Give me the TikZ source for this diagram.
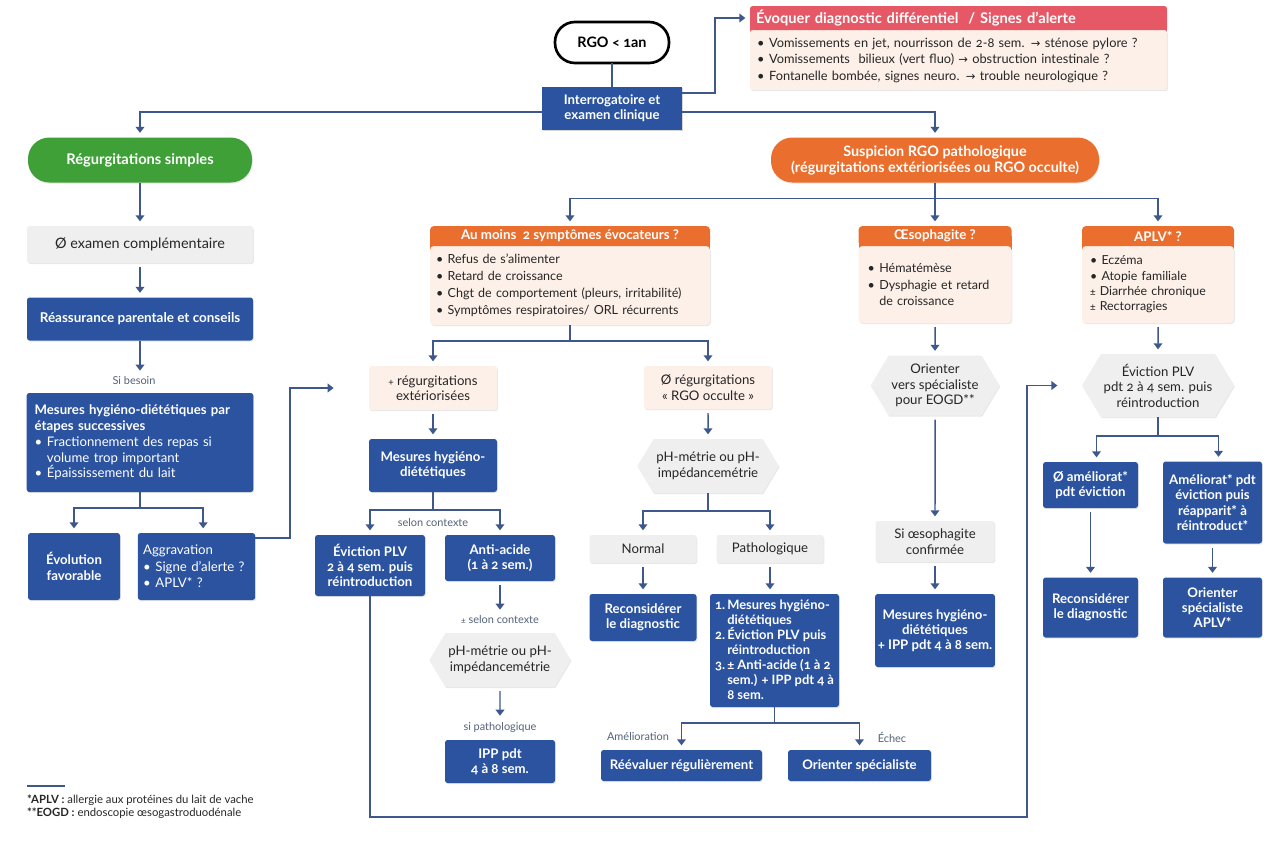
\documentclass[tikz,border=0pt]{standalone}
\usepackage{fontspec}
\setmainfont{Lato}[Numbers=OldStyle]
\newfontfamily\symfont{DejaVu Sans}
\usetikzlibrary{positioning, arrows.meta, shapes.symbols, shadows, backgrounds}

\definecolor{cblue}{RGB}{43,83,160}
\definecolor{cline}{RGB}{62,88,142}
\definecolor{cgreen}{RGB}{62,160,55}
\definecolor{corange}{RGB}{234,110,45}
\definecolor{cred}{RGB}{230,88,102}
\definecolor{cpeach}{RGB}{253,240,232}
\definecolor{cgray}{RGB}{239,239,239}
\definecolor{ctext}{RGB}{38,38,38}
\definecolor{clabel}{RGB}{84,98,122}

\newcommand\fsz[2]{\fontsize{#1}{#2}\selectfont}
\newcommand\toarr{{\symfont\fsz{8.6}{10}→}}
\newcommand\itm{\textbullet\hspace{0.35em}}
\newcommand\smallpm{{\fsz{7.8}{9}±}}

\tikzset{
    sz/.style 2 args={minimum width=#1*0.75pt, minimum height=#2*0.75pt},
    basebox/.style={rectangle, inner sep=2pt, outer sep=0pt, align=center, text=ctext, font=\fsz{9.9}{11.6}},
    soft/.style={drop shadow={opacity=0.18, shadow xshift=0.6pt, shadow yshift=-0.9pt}},
    bluebox/.style={basebox, soft, fill=cblue, text=white, rounded corners=2pt, font=\fsz{9.9}{11.4}\bfseries},
    graybox/.style={basebox, soft, fill=cgray, rounded corners=2pt},
    peachbox/.style={basebox, soft, fill=cpeach, rounded corners=2pt},
    hexbox/.style={basebox, soft, fill=cgray, shape=signal, signal to=west and east, signal pointer angle=118},
    pill/.style={basebox, rounded corners=11pt, text=white, font=\fsz{11}{12.5}\bfseries},
    hdrbox/.style={basebox, rounded corners=3pt, text=white, font=\fsz{10}{11}\bfseries},
    listbox/.style={basebox, soft, fill=cpeach, rounded corners=3pt, align=left, font=\fsz{9.4}{12.2}},
    lbl/.style={text=clabel, inner sep=1pt, font=\fsz{8.2}{10}},
    conn/.style={draw=cline, line width=1.1pt},
    arr/.style={conn, -{Triangle[width=6.5pt, length=4.5pt]}, shorten >=3.5pt},
    sarr/.style={arr, shorten <=3pt},
}

\begin{document}
\begin{tikzpicture}[x=0.75pt, y=-0.75pt]

\begin{scope}[on background layer]
  \fill[white] (0,0) rectangle (1280,846);
\end{scope}
\useasboundingbox (0,0) rectangle (1280,846);

% haut
\node[pill, draw=black, line width=2pt, fill=white, text=black, sz={114}{41}, rounded corners=15pt, font=\fsz{10.8}{12}\bfseries] (rgo) at (612,42.5) {RGO < 1an};
\node[bluebox, soft, sz={140}{43}, rounded corners=0pt] (interro) at (612,108.5) {Interrogatoire et\\examen clinique};

\node[listbox, sz={417}{60}, rounded corners=2pt, text width=302pt, inner xsep=5.25pt, font=\fsz{9.6}{12.4}] (alertb) at (958.5,60) {\itm Vomissements en jet, nourrisson de 2-8 sem. \toarr{} sténose pylore ?\\
  \itm Vomissements\ \ bilieux (vert fluo) \toarr{} obstruction intestinale ?\\
  \itm Fontanelle bombée, signes neuro. \toarr{} trouble neurologique ?};
\node[hdrbox, fill=cred, rounded corners=2pt, sz={417}{24}, text width=303.75pt, inner xsep=4.5pt, align=left, font=\fsz{11}{12}\bfseries, above=0pt of alertb] (alerth) {Évoquer diagnostic différentiel\ \ / Signes d'alerte};

% colonne gauche
\node[pill, soft, fill=cgreen, sz={224}{45}, rounded corners=16pt] (regs) at (140,160) {Régurgitations simples};
\node[graybox, sz={226}{37}, font=\fsz{10.8}{12}] (noexam) at (140,244.5) {Ø examen complémentaire};
\node[bluebox, sz={226}{43}, font=\fsz{10.1}{12}\bfseries] (reass) at (140,319) {Réassurance parentale et conseils};
\node[lbl] (sibesoin) at (134,381) {Si besoin};
\node[bluebox, sz={226}{99}, align=left, text width=158pt, inner xsep=6pt, font=\fsz{9.9}{11.8}] (mhd1) at (140,442.5) {\textbf{Mesures hygiéno-diététiques par}\\\textbf{étapes successives}\\\itm Fractionnement des repas si\\\phantom{\itm}volume trop important\\\itm Épaississement du lait};
\node[bluebox, sz={92}{67}] (evol) at (74,566.5) {Évolution\\favorable};
\node[bluebox, sz={117}{67}, align=left, text width=80pt, inner xsep=4pt, font=\fsz{9.9}{12.5}] (aggr) at (196.5,566.5) {Aggravation\\\itm Signe d'alerte ?\\\itm APLV* ?};

% suspicion
\node[pill, soft, fill=corange, sz={328}{45}, rounded corners=16pt, font=\fsz{10.8}{12}\bfseries] (susp) at (935,160) {Suspicion RGO pathologique\\(régurgitations extériorisées ou RGO occulte)};

\node[listbox, sz={280}{79}, text width=201pt, inner xsep=4.5pt, font=\fsz{9.4}{12.7}] (sympb) at (570,285.5) {\itm Refus de s'alimenter\\\itm Retard de croissance\\\itm Chgt de comportement (pleurs, irritabilité)\\\itm Symptômes respiratoires/ ORL récurrents};
\node[hdrbox, fill=corange, sz={280}{20}, above=0pt of sympb] (sympth) {Au moins\ \ 2 symptômes évocateurs ?};

\node[listbox, sz={153}{77}, text width=101pt, inner xsep=6.75pt, font=\fsz{9.4}{11.6}] (oesob) at (935,284.5) {\itm Hématémèse\\[1.5pt]\itm Dysphagie et retard\\\phantom{\itm}de croissance};
\node[hdrbox, fill=corange, sz={153}{20}, above=0pt of oesob] (oesoh) {Œsophagite ?};

\node[listbox, sz={152}{77}, text width=102pt, inner xsep=6pt, font=\fsz{9.3}{11.5}] (aplvb) at (1158,284.5) {\itm Eczéma\\\itm Atopie familiale\\\smallpm{} Diarrhée chronique\\\smallpm{} Rectorragies};
\node[hdrbox, fill=corange, sz={152}{20}, above=0pt of aplvb] (aplvh) {APLV* ?};

\begin{scope}[on background layer]
  \fill[cred] (alerth.west) rectangle ([yshift=-3pt]alerth.south east);
  \fill[corange] (sympth.west) rectangle ([yshift=-3pt]sympth.south east);
  \fill[corange] (oesoh.west) rectangle ([yshift=-3pt]oesoh.south east);
  \fill[corange] (aplvh.west) rectangle ([yshift=-3pt]aplvh.south east);
\end{scope}

% regurgitations exteriorisees
\node[peachbox, sz={128}{44}] (regext) at (433,388) {{\fsz{7.5}{8}+} régurgitations\\extériorisées};
\node[bluebox, sz={128}{53}] (mhd2) at (433,465.5) {Mesures hygiéno-\\diététiques};
\node[lbl] (selon1) at (433,523) {selon contexte};
\node[bluebox, sz={110}{61}] (evic1) at (370,565.5) {Éviction PLV\\2 à 4 sem. puis\\réintroduction};
\node[bluebox, sz={110}{46}] (antiac) at (500,558) {Anti-acide\\(1 à 2 sem.)};
\node[lbl] (selon2) at (500,620) {{\fsz{6.5}{8}±} selon contexte};
\node[hexbox, sz={138}{54}] (ph1) at (500,660) {pH-métrie ou pH-\\impédancemétrie};
\node[lbl] (sipatho) at (500,727) {si pathologique};
\node[bluebox, sz={110}{43}] (ipp1) at (500,761.5) {IPP pdt\\4 à 8 sem.};

% RGO occulte
\node[peachbox, sz={128}{43}] (occult) at (708,387.5) {Ø régurgitations\\«~RGO occulte~»};
\node[hexbox, sz={138}{54}] (ph2) at (708,466) {pH-métrie ou pH-\\impédancemétrie};
\node[graybox, sz={107}{28}] (normal) at (643,549) {Normal};
\node[graybox, sz={107}{28}] (patho) at (770,549) {Pathologique};
\node[bluebox, sz={107}{47}] (recons1) at (643,617.5) {Reconsidérer\\le diagnostic};
\node[bluebox, sz={129}{113}, align=left, inner xsep=3pt, font=\fsz{9.7}{11.25}\bfseries] (plan) at (774.5,650.5) {1.\,Mesures hygiéno-\\\phantom{1.\,}diététiques\\2.\,Éviction PLV puis\\\phantom{2.\,}réintroduction\\3.\,± Anti-acide (1 à 2\\\phantom{3.\,}sem.) + IPP pdt 4 à\\\phantom{3.\,}8 sem.};
\node[lbl] (amelio) at (638,737) {Amélioration};
\node[lbl] (echec) at (892,737) {Échec};
\node[bluebox, sz={161}{31}] (reeval) at (681.5,765.5) {Réévaluer régulièrement};
\node[bluebox, sz={143}{31}] (orient1) at (859.5,765.5) {Orienter spécialiste};

% oesophagite
\node[hexbox, sz={122}{60}, font=\fsz{9.9}{11.6}] (eogd) at (935,385.5) {Orienter\\vers spécialiste\\pour EOGD**};
\node[graybox, sz={119}{41}] (siconf) at (935,541.5) {Si œsophagite\\confirmée};
\node[bluebox, sz={118}{73}] (mhd3) at (935,630.5) {Mesures hygiéno-\\diététiques\\+ IPP pdt 4 à 8 sem.};

% APLV
\node[hexbox, sz={139}{63}] (evic2) at (1158,385.5) {Éviction PLV\\pdt 2 à 4 sem. puis\\réintroduction};
\node[bluebox, sz={95}{46}] (noamel) at (1090.5,485) {Ø améliorat*\\pdt éviction};
\node[bluebox, sz={99}{82}] (amel) at (1212.5,502.5) {Améliorat* pdt\\éviction puis\\réapparit* à\\réintroduct*};
\node[bluebox, sz={95}{60}] (recons2) at (1090.5,607.5) {Reconsidérer\\le diagnostic};
\node[bluebox, sz={99}{60}] (orient2) at (1212.5,607.5) {Orienter\\spécialiste\\APLV*};

% liens
\draw[conn] (rgo) -- (interro);
\draw[arr] ([yshift=11.6pt]interro.east) -- ++(33,0) |- (alerth.west);
\draw[arr] ([yshift=-2.6pt]interro.west) -| (regs.north);
\draw[arr] ([yshift=-2.6pt]interro.east) -| (susp.north);

\draw[arr] (regs) -- (noexam);
\draw[sarr] (noexam) -- (reass);
\draw[arr] (reass) -- (reass.south |- sibesoin.north);
\draw[arr] (mhd1.south) -- ++(0,16) -| (evol.north);
\draw[arr] (mhd1.south) -- ++(0,16) -| ([xshift=5pt]aggr.north);
\draw[arr] ([yshift=-3.75pt]aggr.north east) -- ++(35,0) |- ([xshift=-23pt]regext.west);

\draw[arr] (susp.south) -- ++(0,16) -| (sympth.north);
\draw[arr] (susp) -- (oesoh);
\draw[arr] (susp.south) -- ++(0,16) -| (aplvh.north);

\draw[arr] (sympb.south) -- ++(0,16) -| (regext.north);
\draw[arr] (sympb.south) -- ++(0,16) -| (occult.north);

\draw[sarr] (regext) -- (mhd2);
\draw[arr] (mhd2.south) -- ++(0,18) -| (evic1.north);
\draw[arr] (mhd2.south) -- ++(0,18) -| (antiac.north);
\draw[sarr] (antiac) -- (antiac.south |- selon2.north);
\draw[sarr] (ph1) -- (ph1.south |- sipatho.north);
\draw[arr] (evic1.south) -- ++(0,221) -- ++(657,0) |- ([xshift=-15pt]evic2.west);

\draw[sarr] (occult) -- (ph2);
\draw[arr] (ph2.south) -- ++(0,18) -| (normal.north);
\draw[arr] (ph2.south) -- ++(0,18) -| (patho.north);
\draw[sarr] (normal) -- (recons1);
\draw[sarr] (patho) -- (patho.south |- plan.north);
\draw[arr] (plan.south) -- ++(0,16) -| (reeval.north);
\draw[arr] (plan.south) -- ++(0,16) -| (orient1.north);

\draw[sarr] (oesob) -- (eogd);
\draw[sarr] (eogd) -- (siconf);
\draw[sarr] (siconf) -- (mhd3);

\draw[sarr] (aplvb) -- (evic2);
\draw[arr] (evic2.south) -- ++(0,19) -| ([xshift=4.5pt]noamel.north);
\draw[arr] (evic2.south) -- ++(0,19) -| ([xshift=4.5pt]amel.north);
\draw[sarr] (noamel) -- (recons2);
\draw[sarr] (amel) -- (orient2);

% notes
\draw[cline, line width=0.8pt] (27,786) -- (65,786);
\node[basebox, anchor=west, align=left, inner sep=0pt, font=\fsz{8.5}{9.75}] (foot) at (27,807) {\textbf{*APLV :} allergie aux protéines du lait de vache\\\textbf{**EOGD :} endoscopie œsogastroduodénale};

\end{tikzpicture}
\end{document}
